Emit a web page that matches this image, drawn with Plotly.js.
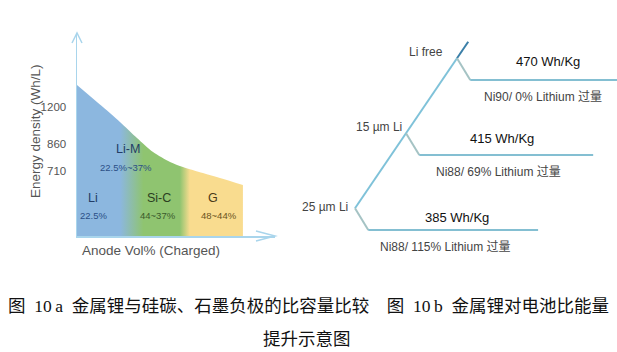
<!DOCTYPE html>
<html><head><meta charset="utf-8">
<script src="https://cdn.plot.ly/plotly-3.0.1.min.js"></script>
<style>html,body{margin:0;padding:0;background:#fff}</style>
</head><body><div id="chart" style="width:617px;height:352px"></div>
<script>
// ---- Fig 10a data (schematic units) ----
const anodeVol = [0, 13.1, 21.7, 30.3, 38.4, 47, 53.5, 63.6, 72.2, 83.8];
const energyDensity = [74.4, 63.5, 56.2, 48.3, 41.4, 36.5, 34, 31, 28.6, 25.1];
const yTickVals = [63.5, 45.3, 32];
const yTickText = ['1200', '860', '710'];
const anodeNames = ['Li-M', 'Li', 'Si-C', 'G'];
const anodeRanges = ['22.5%~37%', '22.5%', '44~37%', '48~44%'];
// ---- Fig 10b data ----
const lithiumLevels = ['25 µm Li', '15 µm Li', 'Li free'];
const specificEnergy = [385, 415, 470];
const cathodes = ['Ni88/ 115% Lithium 过量', 'Ni88/ 69% Lithium 过量', 'Ni90/ 0% Lithium 过量'];
const captionLine1 = '图\u200210\u2009a\u2002金属锂与硅碳、石墨负极的比容量比较\u3000图\u200210\u2009b\u2002金属锂对电池比能量';
const captionLine2 = '提升示意图';

// ---- layout / style ----
const W = 617, H = 352;
const FONT = 'Liberation Sans, Arial, Noto Sans CJK SC, sans-serif';
const axisColor = '#a9d5ec';
const namePos = [[25.8, 42.9], [8.1, 18.7], [41.4, 18.7], [68.7, 18.7]];
const rangePos = [[24.7, 33.5], [8.1, 10.3], [40.9, 10.3], [71.7, 10.3]];
const nameColors = ['#233d66', '#233d66', '#2c3f22', '#4a3a18'];
const rangeColors = ['#2b4f86', '#2b4f86', '#3a5a2c', '#6b5420'];

const nodeStep = 1.0, nodeRise = 0.29, cornerRun = 0.26, topExt = 0.22;
const branchEnd = [3.59, 4.67, 5.2];
const levelShift = [[-5, 1], [-2, 6], [-12, 6]];
const energyShift = [[89, 13], [83, 17], [78, 19]];
const cathodeShift = [[77, -17], [79, -17], [73, -17]];

const px = v => v / W, py = v => 1 - v / H;

const traces = [{
  x: anodeVol, y: energyDensity, type: 'scatter', mode: 'lines',
  line: {width: 0, shape: 'spline', smoothing: 0.8}, fill: 'tozeroy',
  fillgradient: {type: 'horizontal', colorscale: [
    [0, '#8cb7df'], [0.26, '#8cb7df'], [0.40, '#8fc470'], [0.62, '#8fc470'], [0.68, '#f9dc8f'], [1, '#f9dc8f']]},
  hoverinfo: 'skip', showlegend: false, xaxis: 'x', yaxis: 'y'
}];

const nodes = lithiumLevels.map((_, i) => ({x: i * nodeStep, y: i * nodeStep + nodeRise}));
const corners = lithiumLevels.map((_, i) => ({x: i * nodeStep + cornerRun, y: i}));
const trunkTop = {x: nodes[2].x + topExt, y: nodes[2].y + topExt};

traces.push({x: [nodes[0].x, nodes[2].x], y: [nodes[0].y, nodes[2].y], type: 'scatter', mode: 'lines',
  line: {color: '#7fc2d9', width: 2}, hoverinfo: 'skip', showlegend: false, xaxis: 'x2', yaxis: 'y2'});
traces.push({x: [nodes[2].x, trunkTop.x], y: [nodes[2].y, trunkTop.y], type: 'scatter', mode: 'lines',
  line: {color: '#3b7fa8', width: 2}, hoverinfo: 'skip', showlegend: false, xaxis: 'x2', yaxis: 'y2'});
lithiumLevels.forEach((_, i) => {
  traces.push({x: [nodes[i].x, corners[i].x], y: [nodes[i].y, corners[i].y], type: 'scatter', mode: 'lines',
    line: {color: '#a5c3c4', width: 2}, hoverinfo: 'skip', showlegend: false, xaxis: 'x2', yaxis: 'y2'});
  traces.push({x: [corners[i].x, branchEnd[i]], y: [corners[i].y, corners[i].y], type: 'scatter', mode: 'lines',
    line: {color: '#84bfd2', width: 2}, hoverinfo: 'skip', showlegend: false, xaxis: 'x2', yaxis: 'y2'});
});

const ann = [];
anodeNames.forEach((t, i) => ann.push({x: namePos[i][0], y: namePos[i][1], xref: 'x', yref: 'y', text: t,
  showarrow: false, font: {family: FONT, size: 12.5, color: nameColors[i]}}));
anodeRanges.forEach((t, i) => ann.push({x: rangePos[i][0], y: rangePos[i][1], xref: 'x', yref: 'y', text: t,
  showarrow: false, font: {family: FONT, size: 9.5, color: rangeColors[i]}}));
ann.push({x: px(151), y: py(250), xref: 'paper', yref: 'paper', xanchor: 'center', yanchor: 'middle',
  text: 'Anode Vol% (Charged)', showarrow: false, font: {family: FONT, size: 13.5, color: '#555'}});
ann.push({x: px(36), y: py(131), xref: 'paper', yref: 'paper', xanchor: 'center', yanchor: 'middle',
  text: 'Energy density (Wh/L)', textangle: -90, showarrow: false, font: {family: FONT, size: 13.5, color: '#555'}});

lithiumLevels.forEach((t, i) => {
  ann.push({x: nodes[i].x, y: nodes[i].y, xref: 'x2', yref: 'y2', text: t, showarrow: false, xanchor: 'right',
    xshift: levelShift[i][0], yshift: levelShift[i][1], font: {family: FONT, size: 12, color: '#444'}});
  ann.push({x: corners[i].x, y: corners[i].y, xref: 'x2', yref: 'y2', text: specificEnergy[i] + ' Wh/Kg',
    showarrow: false, xshift: energyShift[i][0], yshift: energyShift[i][1], font: {family: FONT, size: 13, color: '#111'}});
  ann.push({x: corners[i].x, y: corners[i].y, xref: 'x2', yref: 'y2', text: cathodes[i],
    showarrow: false, xshift: cathodeShift[i][0], yshift: cathodeShift[i][1], font: {family: FONT, size: 12, color: '#444'}});
});

const CAPFONT = 'Liberation Serif, Noto Sans CJK SC, serif';
ann.push({x: px(308), y: py(306), xref: 'paper', yref: 'paper', xanchor: 'center', yanchor: 'middle',
  text: captionLine1, showarrow: false, font: {family: CAPFONT, size: 17.5, color: '#111'}});
ann.push({x: px(307), y: py(339), xref: 'paper', yref: 'paper', xanchor: 'center', yanchor: 'middle',
  text: captionLine2, showarrow: false, font: {family: CAPFONT, size: 17.5, color: '#111'}});

const shapes = [
  {type: 'path', xref: 'paper', yref: 'paper', path: `M ${px(72)} ${py(43)} L ${px(77)} ${py(33)} L ${px(82)} ${py(43)}`,
    line: {color: axisColor, width: 1.5}},
  {type: 'path', xref: 'paper', yref: 'paper', path: `M ${px(256)} ${py(231)} L ${px(275)} ${py(236)} L ${px(256)} ${py(241)}`,
    line: {color: axisColor, width: 1.5}}
];

const layout = {
  width: W, height: H, margin: {l: 0, r: 0, t: 0, b: 0},
  paper_bgcolor: '#fff', plot_bgcolor: 'rgba(0,0,0,0)', showlegend: false,
  xaxis: {domain: [px(77), px(275)], range: [0, 100], showline: true, linecolor: axisColor, linewidth: 1.5,
    showgrid: false, zeroline: false, showticklabels: false, ticks: '', fixedrange: true},
  yaxis: {domain: [py(236), py(33)], range: [0, 100], showline: true, linecolor: axisColor, linewidth: 1.5,
    showgrid: false, zeroline: false, tickvals: yTickVals, ticktext: yTickText, ticks: '',
    ticklabelstandoff: 7, tickfont: {family: FONT, size: 11.5, color: '#555'}, fixedrange: true},
  xaxis2: {domain: [px(290), 1], range: [-1.2745, 5.1373], visible: false, anchor: 'y2', fixedrange: true},
  yaxis2: {domain: [py(270), py(30)], range: [-0.5333, 2.6667], visible: false, anchor: 'x2', fixedrange: true},
  annotations: ann, shapes: shapes
};
Plotly.newPlot('chart', traces, layout, {displayModeBar: false, staticPlot: true});
</script></body></html>
